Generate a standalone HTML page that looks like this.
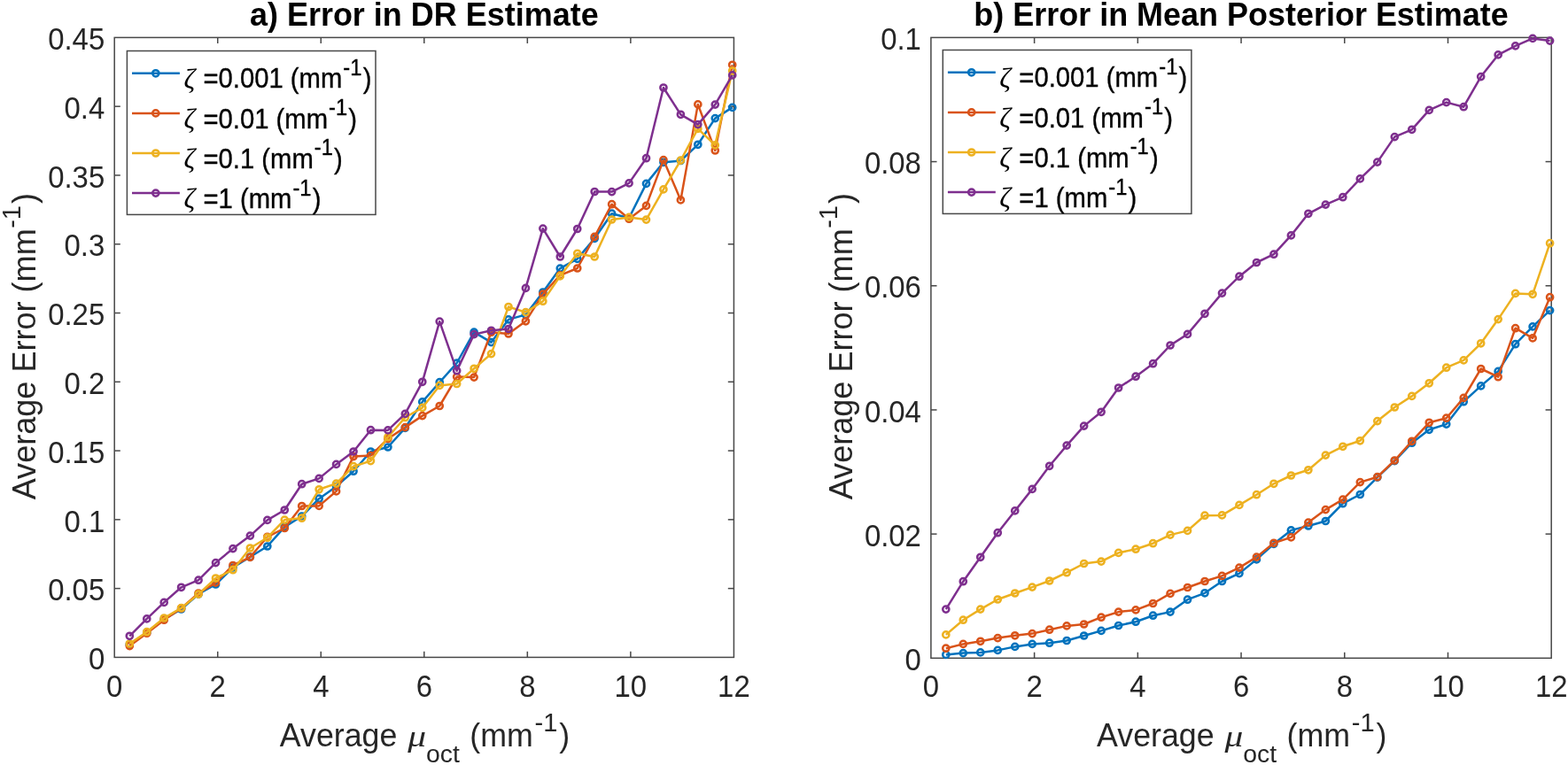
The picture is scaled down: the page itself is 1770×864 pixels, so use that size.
<!DOCTYPE html><html><head><meta charset="utf-8"><title>Error plots</title><style>html,body{margin:0;padding:0;background:#fff;}svg{display:block;}</style></head><body>
<svg width="1770" height="864" viewBox="0 0 1770 864">
<rect width="1770" height="864" fill="#fff"/>
<rect x="129.2" y="42.4" width="699.20" height="700.00" fill="#fff" stroke="#484848" stroke-width="1.5"/>
<g stroke="#484848" stroke-width="1.5">
<line x1="245.73" y1="742.4" x2="245.73" y2="735.8"/>
<line x1="245.73" y1="42.4" x2="245.73" y2="49.0"/>
<line x1="362.27" y1="742.4" x2="362.27" y2="735.8"/>
<line x1="362.27" y1="42.4" x2="362.27" y2="49.0"/>
<line x1="478.80" y1="742.4" x2="478.80" y2="735.8"/>
<line x1="478.80" y1="42.4" x2="478.80" y2="49.0"/>
<line x1="595.33" y1="742.4" x2="595.33" y2="735.8"/>
<line x1="595.33" y1="42.4" x2="595.33" y2="49.0"/>
<line x1="711.87" y1="742.4" x2="711.87" y2="735.8"/>
<line x1="711.87" y1="42.4" x2="711.87" y2="49.0"/>
<line x1="129.2" y1="664.62" x2="135.79999999999998" y2="664.62"/>
<line x1="828.4" y1="664.62" x2="821.8" y2="664.62"/>
<line x1="129.2" y1="586.84" x2="135.79999999999998" y2="586.84"/>
<line x1="828.4" y1="586.84" x2="821.8" y2="586.84"/>
<line x1="129.2" y1="509.07" x2="135.79999999999998" y2="509.07"/>
<line x1="828.4" y1="509.07" x2="821.8" y2="509.07"/>
<line x1="129.2" y1="431.29" x2="135.79999999999998" y2="431.29"/>
<line x1="828.4" y1="431.29" x2="821.8" y2="431.29"/>
<line x1="129.2" y1="353.51" x2="135.79999999999998" y2="353.51"/>
<line x1="828.4" y1="353.51" x2="821.8" y2="353.51"/>
<line x1="129.2" y1="275.73" x2="135.79999999999998" y2="275.73"/>
<line x1="828.4" y1="275.73" x2="821.8" y2="275.73"/>
<line x1="129.2" y1="197.96" x2="135.79999999999998" y2="197.96"/>
<line x1="828.4" y1="197.96" x2="821.8" y2="197.96"/>
<line x1="129.2" y1="120.18" x2="135.79999999999998" y2="120.18"/>
<line x1="828.4" y1="120.18" x2="821.8" y2="120.18"/>
</g>
<g fill="#262626">
<text transform="translate(129.20,786.70) scale(0.948,1)" font-family='"Liberation Sans", Arial, Helvetica, sans-serif' font-size="34.7" font-weight="normal" font-style="normal" text-anchor="middle" >0</text>
<text transform="translate(245.73,786.70) scale(0.948,1)" font-family='"Liberation Sans", Arial, Helvetica, sans-serif' font-size="34.7" font-weight="normal" font-style="normal" text-anchor="middle" >2</text>
<text transform="translate(362.27,786.70) scale(0.948,1)" font-family='"Liberation Sans", Arial, Helvetica, sans-serif' font-size="34.7" font-weight="normal" font-style="normal" text-anchor="middle" >4</text>
<text transform="translate(478.80,786.70) scale(0.948,1)" font-family='"Liberation Sans", Arial, Helvetica, sans-serif' font-size="34.7" font-weight="normal" font-style="normal" text-anchor="middle" >6</text>
<text transform="translate(595.33,786.70) scale(0.948,1)" font-family='"Liberation Sans", Arial, Helvetica, sans-serif' font-size="34.7" font-weight="normal" font-style="normal" text-anchor="middle" >8</text>
<text transform="translate(711.87,786.70) scale(0.948,1)" font-family='"Liberation Sans", Arial, Helvetica, sans-serif' font-size="34.7" font-weight="normal" font-style="normal" text-anchor="middle" >10</text>
<text transform="translate(828.40,786.70) scale(0.948,1)" font-family='"Liberation Sans", Arial, Helvetica, sans-serif' font-size="34.7" font-weight="normal" font-style="normal" text-anchor="middle" >12</text>
<text transform="translate(118.20,756.10) scale(0.948,1)" font-family='"Liberation Sans", Arial, Helvetica, sans-serif' font-size="34.7" font-weight="normal" font-style="normal" text-anchor="end" >0</text>
<text transform="translate(118.20,678.32) scale(0.948,1)" font-family='"Liberation Sans", Arial, Helvetica, sans-serif' font-size="34.7" font-weight="normal" font-style="normal" text-anchor="end" >0.05</text>
<text transform="translate(118.20,600.54) scale(0.948,1)" font-family='"Liberation Sans", Arial, Helvetica, sans-serif' font-size="34.7" font-weight="normal" font-style="normal" text-anchor="end" >0.1</text>
<text transform="translate(118.20,522.77) scale(0.948,1)" font-family='"Liberation Sans", Arial, Helvetica, sans-serif' font-size="34.7" font-weight="normal" font-style="normal" text-anchor="end" >0.15</text>
<text transform="translate(118.20,444.99) scale(0.948,1)" font-family='"Liberation Sans", Arial, Helvetica, sans-serif' font-size="34.7" font-weight="normal" font-style="normal" text-anchor="end" >0.2</text>
<text transform="translate(118.20,367.21) scale(0.948,1)" font-family='"Liberation Sans", Arial, Helvetica, sans-serif' font-size="34.7" font-weight="normal" font-style="normal" text-anchor="end" >0.25</text>
<text transform="translate(118.20,289.43) scale(0.948,1)" font-family='"Liberation Sans", Arial, Helvetica, sans-serif' font-size="34.7" font-weight="normal" font-style="normal" text-anchor="end" >0.3</text>
<text transform="translate(118.20,211.66) scale(0.948,1)" font-family='"Liberation Sans", Arial, Helvetica, sans-serif' font-size="34.7" font-weight="normal" font-style="normal" text-anchor="end" >0.35</text>
<text transform="translate(118.20,133.88) scale(0.948,1)" font-family='"Liberation Sans", Arial, Helvetica, sans-serif' font-size="34.7" font-weight="normal" font-style="normal" text-anchor="end" >0.4</text>
<text transform="translate(118.20,56.10) scale(0.948,1)" font-family='"Liberation Sans", Arial, Helvetica, sans-serif' font-size="34.7" font-weight="normal" font-style="normal" text-anchor="end" >0.45</text>
</g>
<polyline points="146.30,728.00 165.74,714.50 185.18,699.50 204.62,688.00 224.06,671.00 243.50,660.00 262.94,641.00 282.38,629.00 301.82,617.00 321.26,595.10 340.70,583.00 360.14,563.20 379.58,549.40 399.02,532.20 418.46,510.00 437.90,505.00 457.34,483.30 476.78,453.90 496.22,431.70 515.66,410.00 535.10,375.20 554.54,386.60 573.98,360.90 593.42,355.40 612.86,330.00 632.30,303.10 651.74,292.40 671.18,269.30 690.62,241.20 710.06,246.30 729.50,207.40 748.94,183.30 768.38,181.50 787.82,163.30 807.26,133.60 826.70,121.40" fill="none" stroke="#0072BD" stroke-width="2.5" stroke-linejoin="round"/>
<g fill="none" stroke="#0072BD" stroke-width="2.5">
<circle cx="146.30" cy="728.00" r="3.6"/>
<circle cx="165.74" cy="714.50" r="3.6"/>
<circle cx="185.18" cy="699.50" r="3.6"/>
<circle cx="204.62" cy="688.00" r="3.6"/>
<circle cx="224.06" cy="671.00" r="3.6"/>
<circle cx="243.50" cy="660.00" r="3.6"/>
<circle cx="262.94" cy="641.00" r="3.6"/>
<circle cx="282.38" cy="629.00" r="3.6"/>
<circle cx="301.82" cy="617.00" r="3.6"/>
<circle cx="321.26" cy="595.10" r="3.6"/>
<circle cx="340.70" cy="583.00" r="3.6"/>
<circle cx="360.14" cy="563.20" r="3.6"/>
<circle cx="379.58" cy="549.40" r="3.6"/>
<circle cx="399.02" cy="532.20" r="3.6"/>
<circle cx="418.46" cy="510.00" r="3.6"/>
<circle cx="437.90" cy="505.00" r="3.6"/>
<circle cx="457.34" cy="483.30" r="3.6"/>
<circle cx="476.78" cy="453.90" r="3.6"/>
<circle cx="496.22" cy="431.70" r="3.6"/>
<circle cx="515.66" cy="410.00" r="3.6"/>
<circle cx="535.10" cy="375.20" r="3.6"/>
<circle cx="554.54" cy="386.60" r="3.6"/>
<circle cx="573.98" cy="360.90" r="3.6"/>
<circle cx="593.42" cy="355.40" r="3.6"/>
<circle cx="612.86" cy="330.00" r="3.6"/>
<circle cx="632.30" cy="303.10" r="3.6"/>
<circle cx="651.74" cy="292.40" r="3.6"/>
<circle cx="671.18" cy="269.30" r="3.6"/>
<circle cx="690.62" cy="241.20" r="3.6"/>
<circle cx="710.06" cy="246.30" r="3.6"/>
<circle cx="729.50" cy="207.40" r="3.6"/>
<circle cx="748.94" cy="183.30" r="3.6"/>
<circle cx="768.38" cy="181.50" r="3.6"/>
<circle cx="787.82" cy="163.30" r="3.6"/>
<circle cx="807.26" cy="133.60" r="3.6"/>
<circle cx="826.70" cy="121.40" r="3.6"/>
</g>
<polyline points="146.30,729.60 165.74,715.20 185.18,700.20 204.62,687.00 224.06,670.00 243.50,658.10 262.94,638.50 282.38,629.30 301.82,606.30 321.26,596.50 340.70,571.50 360.14,571.40 379.58,554.90 399.02,515.60 418.46,514.60 437.90,495.50 457.34,482.60 476.78,469.60 496.22,458.50 515.66,425.60 535.10,426.10 554.54,375.20 573.98,377.00 593.42,362.80 612.86,332.20 632.30,310.90 651.74,303.00 671.18,267.40 690.62,230.70 710.06,247.20 729.50,232.40 748.94,180.60 768.38,225.90 787.82,117.90 807.26,170.00 826.70,73.30" fill="none" stroke="#D95319" stroke-width="2.5" stroke-linejoin="round"/>
<g fill="none" stroke="#D95319" stroke-width="2.5">
<circle cx="146.30" cy="729.60" r="3.6"/>
<circle cx="165.74" cy="715.20" r="3.6"/>
<circle cx="185.18" cy="700.20" r="3.6"/>
<circle cx="204.62" cy="687.00" r="3.6"/>
<circle cx="224.06" cy="670.00" r="3.6"/>
<circle cx="243.50" cy="658.10" r="3.6"/>
<circle cx="262.94" cy="638.50" r="3.6"/>
<circle cx="282.38" cy="629.30" r="3.6"/>
<circle cx="301.82" cy="606.30" r="3.6"/>
<circle cx="321.26" cy="596.50" r="3.6"/>
<circle cx="340.70" cy="571.50" r="3.6"/>
<circle cx="360.14" cy="571.40" r="3.6"/>
<circle cx="379.58" cy="554.90" r="3.6"/>
<circle cx="399.02" cy="515.60" r="3.6"/>
<circle cx="418.46" cy="514.60" r="3.6"/>
<circle cx="437.90" cy="495.50" r="3.6"/>
<circle cx="457.34" cy="482.60" r="3.6"/>
<circle cx="476.78" cy="469.60" r="3.6"/>
<circle cx="496.22" cy="458.50" r="3.6"/>
<circle cx="515.66" cy="425.60" r="3.6"/>
<circle cx="535.10" cy="426.10" r="3.6"/>
<circle cx="554.54" cy="375.20" r="3.6"/>
<circle cx="573.98" cy="377.00" r="3.6"/>
<circle cx="593.42" cy="362.80" r="3.6"/>
<circle cx="612.86" cy="332.20" r="3.6"/>
<circle cx="632.30" cy="310.90" r="3.6"/>
<circle cx="651.74" cy="303.00" r="3.6"/>
<circle cx="671.18" cy="267.40" r="3.6"/>
<circle cx="690.62" cy="230.70" r="3.6"/>
<circle cx="710.06" cy="247.20" r="3.6"/>
<circle cx="729.50" cy="232.40" r="3.6"/>
<circle cx="748.94" cy="180.60" r="3.6"/>
<circle cx="768.38" cy="225.90" r="3.6"/>
<circle cx="787.82" cy="117.90" r="3.6"/>
<circle cx="807.26" cy="170.00" r="3.6"/>
<circle cx="826.70" cy="73.30" r="3.6"/>
</g>
<polyline points="146.30,727.00 165.74,713.70 185.18,698.00 204.62,686.70 224.06,671.10 243.50,653.00 262.94,643.70 282.38,619.00 301.82,607.20 321.26,587.10 340.70,585.20 360.14,552.80 379.58,546.10 399.02,526.70 418.46,520.60 437.90,493.70 457.34,471.50 476.78,460.40 496.22,435.40 515.66,433.50 535.10,416.30 554.54,399.60 573.98,346.50 593.42,352.60 612.86,340.20 632.30,311.90 651.74,286.30 671.18,290.00 690.62,248.00 710.06,245.40 729.50,248.10 748.94,213.90 768.38,181.10 787.82,145.40 807.26,163.90 826.70,80.00" fill="none" stroke="#EDB120" stroke-width="2.5" stroke-linejoin="round"/>
<g fill="none" stroke="#EDB120" stroke-width="2.5">
<circle cx="146.30" cy="727.00" r="3.6"/>
<circle cx="165.74" cy="713.70" r="3.6"/>
<circle cx="185.18" cy="698.00" r="3.6"/>
<circle cx="204.62" cy="686.70" r="3.6"/>
<circle cx="224.06" cy="671.10" r="3.6"/>
<circle cx="243.50" cy="653.00" r="3.6"/>
<circle cx="262.94" cy="643.70" r="3.6"/>
<circle cx="282.38" cy="619.00" r="3.6"/>
<circle cx="301.82" cy="607.20" r="3.6"/>
<circle cx="321.26" cy="587.10" r="3.6"/>
<circle cx="340.70" cy="585.20" r="3.6"/>
<circle cx="360.14" cy="552.80" r="3.6"/>
<circle cx="379.58" cy="546.10" r="3.6"/>
<circle cx="399.02" cy="526.70" r="3.6"/>
<circle cx="418.46" cy="520.60" r="3.6"/>
<circle cx="437.90" cy="493.70" r="3.6"/>
<circle cx="457.34" cy="471.50" r="3.6"/>
<circle cx="476.78" cy="460.40" r="3.6"/>
<circle cx="496.22" cy="435.40" r="3.6"/>
<circle cx="515.66" cy="433.50" r="3.6"/>
<circle cx="535.10" cy="416.30" r="3.6"/>
<circle cx="554.54" cy="399.60" r="3.6"/>
<circle cx="573.98" cy="346.50" r="3.6"/>
<circle cx="593.42" cy="352.60" r="3.6"/>
<circle cx="612.86" cy="340.20" r="3.6"/>
<circle cx="632.30" cy="311.90" r="3.6"/>
<circle cx="651.74" cy="286.30" r="3.6"/>
<circle cx="671.18" cy="290.00" r="3.6"/>
<circle cx="690.62" cy="248.00" r="3.6"/>
<circle cx="710.06" cy="245.40" r="3.6"/>
<circle cx="729.50" cy="248.10" r="3.6"/>
<circle cx="748.94" cy="213.90" r="3.6"/>
<circle cx="768.38" cy="181.10" r="3.6"/>
<circle cx="787.82" cy="145.40" r="3.6"/>
<circle cx="807.26" cy="163.90" r="3.6"/>
<circle cx="826.70" cy="80.00" r="3.6"/>
</g>
<polyline points="146.30,718.30 165.74,698.90 185.18,680.40 204.62,663.30 224.06,655.20 243.50,635.60 262.94,619.60 282.38,605.10 301.82,587.40 321.26,576.00 340.70,546.70 360.14,540.40 379.58,524.40 399.02,510.00 418.46,485.70 437.90,485.90 457.34,467.40 476.78,431.30 496.22,363.10 515.66,418.70 535.10,377.60 554.54,373.30 573.98,371.50 593.42,325.40 612.86,258.10 632.30,290.00 651.74,258.50 671.18,216.50 690.62,216.60 710.06,206.90 729.50,178.70 748.94,99.00 768.38,129.30 787.82,140.60 807.26,118.10 826.70,84.90" fill="none" stroke="#7E2F8E" stroke-width="2.5" stroke-linejoin="round"/>
<g fill="none" stroke="#7E2F8E" stroke-width="2.5">
<circle cx="146.30" cy="718.30" r="3.6"/>
<circle cx="165.74" cy="698.90" r="3.6"/>
<circle cx="185.18" cy="680.40" r="3.6"/>
<circle cx="204.62" cy="663.30" r="3.6"/>
<circle cx="224.06" cy="655.20" r="3.6"/>
<circle cx="243.50" cy="635.60" r="3.6"/>
<circle cx="262.94" cy="619.60" r="3.6"/>
<circle cx="282.38" cy="605.10" r="3.6"/>
<circle cx="301.82" cy="587.40" r="3.6"/>
<circle cx="321.26" cy="576.00" r="3.6"/>
<circle cx="340.70" cy="546.70" r="3.6"/>
<circle cx="360.14" cy="540.40" r="3.6"/>
<circle cx="379.58" cy="524.40" r="3.6"/>
<circle cx="399.02" cy="510.00" r="3.6"/>
<circle cx="418.46" cy="485.70" r="3.6"/>
<circle cx="437.90" cy="485.90" r="3.6"/>
<circle cx="457.34" cy="467.40" r="3.6"/>
<circle cx="476.78" cy="431.30" r="3.6"/>
<circle cx="496.22" cy="363.10" r="3.6"/>
<circle cx="515.66" cy="418.70" r="3.6"/>
<circle cx="535.10" cy="377.60" r="3.6"/>
<circle cx="554.54" cy="373.30" r="3.6"/>
<circle cx="573.98" cy="371.50" r="3.6"/>
<circle cx="593.42" cy="325.40" r="3.6"/>
<circle cx="612.86" cy="258.10" r="3.6"/>
<circle cx="632.30" cy="290.00" r="3.6"/>
<circle cx="651.74" cy="258.50" r="3.6"/>
<circle cx="671.18" cy="216.50" r="3.6"/>
<circle cx="690.62" cy="216.60" r="3.6"/>
<circle cx="710.06" cy="206.90" r="3.6"/>
<circle cx="729.50" cy="178.70" r="3.6"/>
<circle cx="748.94" cy="99.00" r="3.6"/>
<circle cx="768.38" cy="129.30" r="3.6"/>
<circle cx="787.82" cy="140.60" r="3.6"/>
<circle cx="807.26" cy="118.10" r="3.6"/>
<circle cx="826.70" cy="84.90" r="3.6"/>
</g>
<text transform="translate(478.80,29.00) scale(0.967,1)" font-family='"Liberation Sans", Arial, Helvetica, sans-serif' font-size="37.2" font-weight="bold" font-style="normal" text-anchor="middle" fill="#000">a) Error in DR Estimate</text>
<g fill="#262626">
<text transform="translate(315.80,843.00) scale(0.957,1)" font-family='"Liberation Sans", Arial, Helvetica, sans-serif' font-size="37.4" font-weight="normal" font-style="normal" text-anchor="start" >Average</text>
<text transform="translate(460.20,842.60) scale(1.2,1)" font-family='"Liberation Serif", "DejaVu Serif", serif' font-size="34.5" font-weight="normal" font-style="italic" text-anchor="start" >&#956;</text>
<text transform="translate(481.00,860.70) scale(1.06,1)" font-family='"Liberation Sans", Arial, Helvetica, sans-serif' font-size="26.8" font-weight="normal" font-style="normal" text-anchor="start" >oct</text>
<text transform="translate(530.30,843.00) scale(0.957,1)" font-family='"Liberation Sans", Arial, Helvetica, sans-serif' font-size="37.4" font-weight="normal" font-style="normal" text-anchor="start" >(mm</text>
<text transform="translate(603.50,825.50) scale(0.97,1)" font-family='"Liberation Sans", Arial, Helvetica, sans-serif' font-size="30.0" font-weight="normal" font-style="normal" text-anchor="start" >-1</text>
<text transform="translate(631.30,843.00) scale(0.957,1)" font-family='"Liberation Sans", Arial, Helvetica, sans-serif' font-size="37.4" font-weight="normal" font-style="normal" text-anchor="start" >)</text>
</g>
<g fill="#262626" transform="translate(40.30,0) rotate(-90)">
<text transform="translate(-564.30,0) scale(0.997,1)" font-family='"Liberation Sans", Arial, Helvetica, sans-serif' font-size="36.2">Average Error (mm</text>
<text transform="translate(-257.80,-17.2) scale(0.997,1)" font-family='"Liberation Sans", Arial, Helvetica, sans-serif' font-size="29.0">-1</text>
<text transform="translate(-230.10,0) scale(0.997,1)" font-family='"Liberation Sans", Arial, Helvetica, sans-serif' font-size="36.2">)</text>
</g>
<rect x="143.40" y="57.5" width="280.6" height="184.9" fill="#fff" stroke="#484848" stroke-width="1.5"/>
<line x1="149.00" y1="82.8" x2="202.90" y2="82.8" stroke="#0072BD" stroke-width="2.5"/>
<circle cx="175.80" cy="82.8" r="3.6" fill="none" stroke="#0072BD" stroke-width="2.5"/>
<g fill="#000" stroke="#000" stroke-width="0.35">
<text transform="translate(207.40,100.00) scale(1.0,1)" font-family='"Liberation Serif", "DejaVu Serif", serif' font-size="31.5" font-weight="normal" font-style="italic" text-anchor="start" stroke-width="0">&#950;</text>
<text transform="translate(229.40,99.40) scale(0.941,1)" font-family='"Liberation Sans", Arial, Helvetica, sans-serif' font-size="31.1" font-weight="normal" font-style="normal" text-anchor="start" >=0.001 (mm</text>
<text transform="translate(387.35,85.20) scale(0.92,1)" font-family='"Liberation Sans", Arial, Helvetica, sans-serif' font-size="25.8" font-weight="normal" font-style="normal" text-anchor="start" >-1</text>
<text transform="translate(409.64,99.40) scale(0.941,1)" font-family='"Liberation Sans", Arial, Helvetica, sans-serif' font-size="31.1" font-weight="normal" font-style="normal" text-anchor="start" >)</text>
</g>
<line x1="149.00" y1="127.9" x2="202.90" y2="127.9" stroke="#D95319" stroke-width="2.5"/>
<circle cx="175.80" cy="127.9" r="3.6" fill="none" stroke="#D95319" stroke-width="2.5"/>
<g fill="#000" stroke="#000" stroke-width="0.35">
<text transform="translate(207.40,145.10) scale(1.0,1)" font-family='"Liberation Serif", "DejaVu Serif", serif' font-size="31.5" font-weight="normal" font-style="italic" text-anchor="start" stroke-width="0">&#950;</text>
<text transform="translate(229.40,144.50) scale(0.941,1)" font-family='"Liberation Sans", Arial, Helvetica, sans-serif' font-size="31.1" font-weight="normal" font-style="normal" text-anchor="start" >=0.01 (mm</text>
<text transform="translate(371.08,130.30) scale(0.92,1)" font-family='"Liberation Sans", Arial, Helvetica, sans-serif' font-size="25.8" font-weight="normal" font-style="normal" text-anchor="start" >-1</text>
<text transform="translate(393.37,144.50) scale(0.941,1)" font-family='"Liberation Sans", Arial, Helvetica, sans-serif' font-size="31.1" font-weight="normal" font-style="normal" text-anchor="start" >)</text>
</g>
<line x1="149.00" y1="173.0" x2="202.90" y2="173.0" stroke="#EDB120" stroke-width="2.5"/>
<circle cx="175.80" cy="173.0" r="3.6" fill="none" stroke="#EDB120" stroke-width="2.5"/>
<g fill="#000" stroke="#000" stroke-width="0.35">
<text transform="translate(207.40,190.20) scale(1.0,1)" font-family='"Liberation Serif", "DejaVu Serif", serif' font-size="31.5" font-weight="normal" font-style="italic" text-anchor="start" stroke-width="0">&#950;</text>
<text transform="translate(229.40,189.60) scale(0.941,1)" font-family='"Liberation Sans", Arial, Helvetica, sans-serif' font-size="31.1" font-weight="normal" font-style="normal" text-anchor="start" >=0.1 (mm</text>
<text transform="translate(354.81,175.40) scale(0.92,1)" font-family='"Liberation Sans", Arial, Helvetica, sans-serif' font-size="25.8" font-weight="normal" font-style="normal" text-anchor="start" >-1</text>
<text transform="translate(377.10,189.60) scale(0.941,1)" font-family='"Liberation Sans", Arial, Helvetica, sans-serif' font-size="31.1" font-weight="normal" font-style="normal" text-anchor="start" >)</text>
</g>
<line x1="149.00" y1="218.10000000000002" x2="202.90" y2="218.10000000000002" stroke="#7E2F8E" stroke-width="2.5"/>
<circle cx="175.80" cy="218.10000000000002" r="3.6" fill="none" stroke="#7E2F8E" stroke-width="2.5"/>
<g fill="#000" stroke="#000" stroke-width="0.35">
<text transform="translate(207.40,235.30) scale(1.0,1)" font-family='"Liberation Serif", "DejaVu Serif", serif' font-size="31.5" font-weight="normal" font-style="italic" text-anchor="start" stroke-width="0">&#950;</text>
<text transform="translate(229.40,234.70) scale(0.941,1)" font-family='"Liberation Sans", Arial, Helvetica, sans-serif' font-size="31.1" font-weight="normal" font-style="normal" text-anchor="start" >=1 (mm</text>
<text transform="translate(330.40,220.50) scale(0.92,1)" font-family='"Liberation Sans", Arial, Helvetica, sans-serif' font-size="25.8" font-weight="normal" font-style="normal" text-anchor="start" >-1</text>
<text transform="translate(352.69,234.70) scale(0.941,1)" font-family='"Liberation Sans", Arial, Helvetica, sans-serif' font-size="31.1" font-weight="normal" font-style="normal" text-anchor="start" >)</text>
</g>
<rect x="1050.9" y="42.4" width="700.30" height="700.90" fill="#fff" stroke="#484848" stroke-width="1.5"/>
<g stroke="#484848" stroke-width="1.5">
<line x1="1167.62" y1="743.3" x2="1167.62" y2="736.6999999999999"/>
<line x1="1167.62" y1="42.4" x2="1167.62" y2="49.0"/>
<line x1="1284.33" y1="743.3" x2="1284.33" y2="736.6999999999999"/>
<line x1="1284.33" y1="42.4" x2="1284.33" y2="49.0"/>
<line x1="1401.05" y1="743.3" x2="1401.05" y2="736.6999999999999"/>
<line x1="1401.05" y1="42.4" x2="1401.05" y2="49.0"/>
<line x1="1517.77" y1="743.3" x2="1517.77" y2="736.6999999999999"/>
<line x1="1517.77" y1="42.4" x2="1517.77" y2="49.0"/>
<line x1="1634.48" y1="743.3" x2="1634.48" y2="736.6999999999999"/>
<line x1="1634.48" y1="42.4" x2="1634.48" y2="49.0"/>
<line x1="1050.9" y1="603.12" x2="1057.5" y2="603.12"/>
<line x1="1751.2" y1="603.12" x2="1744.6000000000001" y2="603.12"/>
<line x1="1050.9" y1="462.94" x2="1057.5" y2="462.94"/>
<line x1="1751.2" y1="462.94" x2="1744.6000000000001" y2="462.94"/>
<line x1="1050.9" y1="322.76" x2="1057.5" y2="322.76"/>
<line x1="1751.2" y1="322.76" x2="1744.6000000000001" y2="322.76"/>
<line x1="1050.9" y1="182.58" x2="1057.5" y2="182.58"/>
<line x1="1751.2" y1="182.58" x2="1744.6000000000001" y2="182.58"/>
</g>
<g fill="#262626">
<text transform="translate(1050.90,786.70) scale(0.948,1)" font-family='"Liberation Sans", Arial, Helvetica, sans-serif' font-size="34.7" font-weight="normal" font-style="normal" text-anchor="middle" >0</text>
<text transform="translate(1167.62,786.70) scale(0.948,1)" font-family='"Liberation Sans", Arial, Helvetica, sans-serif' font-size="34.7" font-weight="normal" font-style="normal" text-anchor="middle" >2</text>
<text transform="translate(1284.33,786.70) scale(0.948,1)" font-family='"Liberation Sans", Arial, Helvetica, sans-serif' font-size="34.7" font-weight="normal" font-style="normal" text-anchor="middle" >4</text>
<text transform="translate(1401.05,786.70) scale(0.948,1)" font-family='"Liberation Sans", Arial, Helvetica, sans-serif' font-size="34.7" font-weight="normal" font-style="normal" text-anchor="middle" >6</text>
<text transform="translate(1517.77,786.70) scale(0.948,1)" font-family='"Liberation Sans", Arial, Helvetica, sans-serif' font-size="34.7" font-weight="normal" font-style="normal" text-anchor="middle" >8</text>
<text transform="translate(1634.48,786.70) scale(0.948,1)" font-family='"Liberation Sans", Arial, Helvetica, sans-serif' font-size="34.7" font-weight="normal" font-style="normal" text-anchor="middle" >10</text>
<text transform="translate(1751.20,786.70) scale(0.948,1)" font-family='"Liberation Sans", Arial, Helvetica, sans-serif' font-size="34.7" font-weight="normal" font-style="normal" text-anchor="middle" >12</text>
<text transform="translate(1039.90,757.00) scale(0.948,1)" font-family='"Liberation Sans", Arial, Helvetica, sans-serif' font-size="34.7" font-weight="normal" font-style="normal" text-anchor="end" >0</text>
<text transform="translate(1039.90,616.82) scale(0.948,1)" font-family='"Liberation Sans", Arial, Helvetica, sans-serif' font-size="34.7" font-weight="normal" font-style="normal" text-anchor="end" >0.02</text>
<text transform="translate(1039.90,476.64) scale(0.948,1)" font-family='"Liberation Sans", Arial, Helvetica, sans-serif' font-size="34.7" font-weight="normal" font-style="normal" text-anchor="end" >0.04</text>
<text transform="translate(1039.90,336.46) scale(0.948,1)" font-family='"Liberation Sans", Arial, Helvetica, sans-serif' font-size="34.7" font-weight="normal" font-style="normal" text-anchor="end" >0.06</text>
<text transform="translate(1039.90,196.28) scale(0.948,1)" font-family='"Liberation Sans", Arial, Helvetica, sans-serif' font-size="34.7" font-weight="normal" font-style="normal" text-anchor="end" >0.08</text>
<text transform="translate(1039.90,56.10) scale(0.948,1)" font-family='"Liberation Sans", Arial, Helvetica, sans-serif' font-size="34.7" font-weight="normal" font-style="normal" text-anchor="end" >0.1</text>
</g>
<polyline points="1067.80,739.40 1087.28,737.60 1106.76,736.90 1126.24,734.40 1145.72,730.40 1165.20,727.40 1184.68,726.20 1204.16,723.50 1223.64,718.00 1243.12,712.40 1262.60,706.50 1282.08,702.20 1301.56,695.20 1321.04,691.10 1340.52,677.20 1360.00,669.80 1379.48,656.50 1398.96,647.60 1418.44,631.90 1437.92,614.30 1457.40,598.90 1476.88,594.00 1496.36,588.50 1515.84,568.70 1535.32,558.50 1554.80,539.10 1574.28,520.60 1593.76,500.20 1613.24,485.30 1632.72,479.10 1652.20,453.70 1671.68,435.90 1691.16,419.40 1710.64,388.70 1730.12,368.90 1749.60,350.60" fill="none" stroke="#0072BD" stroke-width="2.5" stroke-linejoin="round"/>
<g fill="none" stroke="#0072BD" stroke-width="2.5">
<circle cx="1067.80" cy="739.40" r="3.6"/>
<circle cx="1087.28" cy="737.60" r="3.6"/>
<circle cx="1106.76" cy="736.90" r="3.6"/>
<circle cx="1126.24" cy="734.40" r="3.6"/>
<circle cx="1145.72" cy="730.40" r="3.6"/>
<circle cx="1165.20" cy="727.40" r="3.6"/>
<circle cx="1184.68" cy="726.20" r="3.6"/>
<circle cx="1204.16" cy="723.50" r="3.6"/>
<circle cx="1223.64" cy="718.00" r="3.6"/>
<circle cx="1243.12" cy="712.40" r="3.6"/>
<circle cx="1262.60" cy="706.50" r="3.6"/>
<circle cx="1282.08" cy="702.20" r="3.6"/>
<circle cx="1301.56" cy="695.20" r="3.6"/>
<circle cx="1321.04" cy="691.10" r="3.6"/>
<circle cx="1340.52" cy="677.20" r="3.6"/>
<circle cx="1360.00" cy="669.80" r="3.6"/>
<circle cx="1379.48" cy="656.50" r="3.6"/>
<circle cx="1398.96" cy="647.60" r="3.6"/>
<circle cx="1418.44" cy="631.90" r="3.6"/>
<circle cx="1437.92" cy="614.30" r="3.6"/>
<circle cx="1457.40" cy="598.90" r="3.6"/>
<circle cx="1476.88" cy="594.00" r="3.6"/>
<circle cx="1496.36" cy="588.50" r="3.6"/>
<circle cx="1515.84" cy="568.70" r="3.6"/>
<circle cx="1535.32" cy="558.50" r="3.6"/>
<circle cx="1554.80" cy="539.10" r="3.6"/>
<circle cx="1574.28" cy="520.60" r="3.6"/>
<circle cx="1593.76" cy="500.20" r="3.6"/>
<circle cx="1613.24" cy="485.30" r="3.6"/>
<circle cx="1632.72" cy="479.10" r="3.6"/>
<circle cx="1652.20" cy="453.70" r="3.6"/>
<circle cx="1671.68" cy="435.90" r="3.6"/>
<circle cx="1691.16" cy="419.40" r="3.6"/>
<circle cx="1710.64" cy="388.70" r="3.6"/>
<circle cx="1730.12" cy="368.90" r="3.6"/>
<circle cx="1749.60" cy="350.60" r="3.6"/>
</g>
<polyline points="1067.80,732.20 1087.28,727.40 1106.76,724.30 1126.24,720.60 1145.72,717.80 1165.20,715.60 1184.68,711.20 1204.16,706.90 1223.64,705.00 1243.12,697.20 1262.60,691.10 1282.08,688.90 1301.56,681.50 1321.04,670.40 1340.52,663.50 1360.00,656.50 1379.48,650.40 1398.96,641.10 1418.44,629.10 1437.92,613.30 1457.40,606.90 1476.88,590.10 1496.36,575.60 1515.84,564.10 1535.32,544.60 1554.80,538.70 1574.28,520.00 1593.76,498.30 1613.24,477.30 1632.72,472.20 1652.20,449.40 1671.68,416.50 1691.16,425.70 1710.64,370.70 1730.12,381.90 1749.60,335.70" fill="none" stroke="#D95319" stroke-width="2.5" stroke-linejoin="round"/>
<g fill="none" stroke="#D95319" stroke-width="2.5">
<circle cx="1067.80" cy="732.20" r="3.6"/>
<circle cx="1087.28" cy="727.40" r="3.6"/>
<circle cx="1106.76" cy="724.30" r="3.6"/>
<circle cx="1126.24" cy="720.60" r="3.6"/>
<circle cx="1145.72" cy="717.80" r="3.6"/>
<circle cx="1165.20" cy="715.60" r="3.6"/>
<circle cx="1184.68" cy="711.20" r="3.6"/>
<circle cx="1204.16" cy="706.90" r="3.6"/>
<circle cx="1223.64" cy="705.00" r="3.6"/>
<circle cx="1243.12" cy="697.20" r="3.6"/>
<circle cx="1262.60" cy="691.10" r="3.6"/>
<circle cx="1282.08" cy="688.90" r="3.6"/>
<circle cx="1301.56" cy="681.50" r="3.6"/>
<circle cx="1321.04" cy="670.40" r="3.6"/>
<circle cx="1340.52" cy="663.50" r="3.6"/>
<circle cx="1360.00" cy="656.50" r="3.6"/>
<circle cx="1379.48" cy="650.40" r="3.6"/>
<circle cx="1398.96" cy="641.10" r="3.6"/>
<circle cx="1418.44" cy="629.10" r="3.6"/>
<circle cx="1437.92" cy="613.30" r="3.6"/>
<circle cx="1457.40" cy="606.90" r="3.6"/>
<circle cx="1476.88" cy="590.10" r="3.6"/>
<circle cx="1496.36" cy="575.60" r="3.6"/>
<circle cx="1515.84" cy="564.10" r="3.6"/>
<circle cx="1535.32" cy="544.60" r="3.6"/>
<circle cx="1554.80" cy="538.70" r="3.6"/>
<circle cx="1574.28" cy="520.00" r="3.6"/>
<circle cx="1593.76" cy="498.30" r="3.6"/>
<circle cx="1613.24" cy="477.30" r="3.6"/>
<circle cx="1632.72" cy="472.20" r="3.6"/>
<circle cx="1652.20" cy="449.40" r="3.6"/>
<circle cx="1671.68" cy="416.50" r="3.6"/>
<circle cx="1691.16" cy="425.70" r="3.6"/>
<circle cx="1710.64" cy="370.70" r="3.6"/>
<circle cx="1730.12" cy="381.90" r="3.6"/>
<circle cx="1749.60" cy="335.70" r="3.6"/>
</g>
<polyline points="1067.80,716.90 1087.28,700.20 1106.76,688.10 1126.24,677.00 1145.72,670.00 1165.20,663.10 1184.68,656.00 1204.16,646.70 1223.64,636.50 1243.12,634.10 1262.60,624.40 1282.08,620.20 1301.56,613.70 1321.04,604.10 1340.52,599.40 1360.00,582.20 1379.48,581.90 1398.96,570.40 1418.44,558.70 1437.92,546.30 1457.40,537.00 1476.88,530.80 1496.36,514.10 1515.84,504.30 1535.32,497.80 1554.80,475.60 1574.28,460.00 1593.76,447.40 1613.24,432.80 1632.72,415.20 1652.20,406.90 1671.68,387.80 1691.16,360.60 1710.64,331.40 1730.12,332.30 1749.60,274.70" fill="none" stroke="#EDB120" stroke-width="2.5" stroke-linejoin="round"/>
<g fill="none" stroke="#EDB120" stroke-width="2.5">
<circle cx="1067.80" cy="716.90" r="3.6"/>
<circle cx="1087.28" cy="700.20" r="3.6"/>
<circle cx="1106.76" cy="688.10" r="3.6"/>
<circle cx="1126.24" cy="677.00" r="3.6"/>
<circle cx="1145.72" cy="670.00" r="3.6"/>
<circle cx="1165.20" cy="663.10" r="3.6"/>
<circle cx="1184.68" cy="656.00" r="3.6"/>
<circle cx="1204.16" cy="646.70" r="3.6"/>
<circle cx="1223.64" cy="636.50" r="3.6"/>
<circle cx="1243.12" cy="634.10" r="3.6"/>
<circle cx="1262.60" cy="624.40" r="3.6"/>
<circle cx="1282.08" cy="620.20" r="3.6"/>
<circle cx="1301.56" cy="613.70" r="3.6"/>
<circle cx="1321.04" cy="604.10" r="3.6"/>
<circle cx="1340.52" cy="599.40" r="3.6"/>
<circle cx="1360.00" cy="582.20" r="3.6"/>
<circle cx="1379.48" cy="581.90" r="3.6"/>
<circle cx="1398.96" cy="570.40" r="3.6"/>
<circle cx="1418.44" cy="558.70" r="3.6"/>
<circle cx="1437.92" cy="546.30" r="3.6"/>
<circle cx="1457.40" cy="537.00" r="3.6"/>
<circle cx="1476.88" cy="530.80" r="3.6"/>
<circle cx="1496.36" cy="514.10" r="3.6"/>
<circle cx="1515.84" cy="504.30" r="3.6"/>
<circle cx="1535.32" cy="497.80" r="3.6"/>
<circle cx="1554.80" cy="475.60" r="3.6"/>
<circle cx="1574.28" cy="460.00" r="3.6"/>
<circle cx="1593.76" cy="447.40" r="3.6"/>
<circle cx="1613.24" cy="432.80" r="3.6"/>
<circle cx="1632.72" cy="415.20" r="3.6"/>
<circle cx="1652.20" cy="406.90" r="3.6"/>
<circle cx="1671.68" cy="387.80" r="3.6"/>
<circle cx="1691.16" cy="360.60" r="3.6"/>
<circle cx="1710.64" cy="331.40" r="3.6"/>
<circle cx="1730.12" cy="332.30" r="3.6"/>
<circle cx="1749.60" cy="274.70" r="3.6"/>
</g>
<polyline points="1067.80,688.10 1087.28,656.70 1106.76,629.30 1126.24,601.70 1145.72,576.90 1165.20,552.40 1184.68,526.30 1204.16,503.10 1223.64,481.10 1243.12,465.30 1262.60,438.00 1282.08,425.20 1301.56,410.70 1321.04,390.00 1340.52,377.40 1360.00,354.30 1379.48,331.10 1398.96,312.20 1418.44,296.50 1437.92,287.20 1457.40,265.90 1476.88,241.30 1496.36,231.10 1515.84,222.70 1535.32,201.90 1554.80,183.10 1574.28,154.60 1593.76,146.30 1613.24,124.40 1632.72,115.60 1652.20,120.70 1671.68,86.60 1691.16,61.90 1710.64,51.90 1730.12,43.40 1749.60,46.10" fill="none" stroke="#7E2F8E" stroke-width="2.5" stroke-linejoin="round"/>
<g fill="none" stroke="#7E2F8E" stroke-width="2.5">
<circle cx="1067.80" cy="688.10" r="3.6"/>
<circle cx="1087.28" cy="656.70" r="3.6"/>
<circle cx="1106.76" cy="629.30" r="3.6"/>
<circle cx="1126.24" cy="601.70" r="3.6"/>
<circle cx="1145.72" cy="576.90" r="3.6"/>
<circle cx="1165.20" cy="552.40" r="3.6"/>
<circle cx="1184.68" cy="526.30" r="3.6"/>
<circle cx="1204.16" cy="503.10" r="3.6"/>
<circle cx="1223.64" cy="481.10" r="3.6"/>
<circle cx="1243.12" cy="465.30" r="3.6"/>
<circle cx="1262.60" cy="438.00" r="3.6"/>
<circle cx="1282.08" cy="425.20" r="3.6"/>
<circle cx="1301.56" cy="410.70" r="3.6"/>
<circle cx="1321.04" cy="390.00" r="3.6"/>
<circle cx="1340.52" cy="377.40" r="3.6"/>
<circle cx="1360.00" cy="354.30" r="3.6"/>
<circle cx="1379.48" cy="331.10" r="3.6"/>
<circle cx="1398.96" cy="312.20" r="3.6"/>
<circle cx="1418.44" cy="296.50" r="3.6"/>
<circle cx="1437.92" cy="287.20" r="3.6"/>
<circle cx="1457.40" cy="265.90" r="3.6"/>
<circle cx="1476.88" cy="241.30" r="3.6"/>
<circle cx="1496.36" cy="231.10" r="3.6"/>
<circle cx="1515.84" cy="222.70" r="3.6"/>
<circle cx="1535.32" cy="201.90" r="3.6"/>
<circle cx="1554.80" cy="183.10" r="3.6"/>
<circle cx="1574.28" cy="154.60" r="3.6"/>
<circle cx="1593.76" cy="146.30" r="3.6"/>
<circle cx="1613.24" cy="124.40" r="3.6"/>
<circle cx="1632.72" cy="115.60" r="3.6"/>
<circle cx="1652.20" cy="120.70" r="3.6"/>
<circle cx="1671.68" cy="86.60" r="3.6"/>
<circle cx="1691.16" cy="61.90" r="3.6"/>
<circle cx="1710.64" cy="51.90" r="3.6"/>
<circle cx="1730.12" cy="43.40" r="3.6"/>
<circle cx="1749.60" cy="46.10" r="3.6"/>
</g>
<text transform="translate(1401.05,29.00) scale(0.967,1)" font-family='"Liberation Sans", Arial, Helvetica, sans-serif' font-size="37.2" font-weight="bold" font-style="normal" text-anchor="middle" fill="#000">b) Error in Mean Posterior Estimate</text>
<g fill="#262626">
<text transform="translate(1238.05,843.00) scale(0.957,1)" font-family='"Liberation Sans", Arial, Helvetica, sans-serif' font-size="37.4" font-weight="normal" font-style="normal" text-anchor="start" >Average</text>
<text transform="translate(1382.45,842.60) scale(1.2,1)" font-family='"Liberation Serif", "DejaVu Serif", serif' font-size="34.5" font-weight="normal" font-style="italic" text-anchor="start" >&#956;</text>
<text transform="translate(1403.25,860.70) scale(1.06,1)" font-family='"Liberation Sans", Arial, Helvetica, sans-serif' font-size="26.8" font-weight="normal" font-style="normal" text-anchor="start" >oct</text>
<text transform="translate(1452.55,843.00) scale(0.957,1)" font-family='"Liberation Sans", Arial, Helvetica, sans-serif' font-size="37.4" font-weight="normal" font-style="normal" text-anchor="start" >(mm</text>
<text transform="translate(1525.75,825.50) scale(0.97,1)" font-family='"Liberation Sans", Arial, Helvetica, sans-serif' font-size="30.0" font-weight="normal" font-style="normal" text-anchor="start" >-1</text>
<text transform="translate(1553.55,843.00) scale(0.957,1)" font-family='"Liberation Sans", Arial, Helvetica, sans-serif' font-size="37.4" font-weight="normal" font-style="normal" text-anchor="start" >)</text>
</g>
<g fill="#262626" transform="translate(962.00,0) rotate(-90)">
<text transform="translate(-564.30,0) scale(0.997,1)" font-family='"Liberation Sans", Arial, Helvetica, sans-serif' font-size="36.2">Average Error (mm</text>
<text transform="translate(-257.80,-17.2) scale(0.997,1)" font-family='"Liberation Sans", Arial, Helvetica, sans-serif' font-size="29.0">-1</text>
<text transform="translate(-230.10,0) scale(0.997,1)" font-family='"Liberation Sans", Arial, Helvetica, sans-serif' font-size="36.2">)</text>
</g>
<rect x="1064.30" y="56.5" width="280.6" height="184.9" fill="#fff" stroke="#484848" stroke-width="1.5"/>
<line x1="1069.90" y1="81.8" x2="1123.80" y2="81.8" stroke="#0072BD" stroke-width="2.5"/>
<circle cx="1096.70" cy="81.8" r="3.6" fill="none" stroke="#0072BD" stroke-width="2.5"/>
<g fill="#000" stroke="#000" stroke-width="0.35">
<text transform="translate(1128.30,99.00) scale(1.0,1)" font-family='"Liberation Serif", "DejaVu Serif", serif' font-size="31.5" font-weight="normal" font-style="italic" text-anchor="start" stroke-width="0">&#950;</text>
<text transform="translate(1150.30,98.40) scale(0.941,1)" font-family='"Liberation Sans", Arial, Helvetica, sans-serif' font-size="31.1" font-weight="normal" font-style="normal" text-anchor="start" >=0.001 (mm</text>
<text transform="translate(1308.25,84.20) scale(0.92,1)" font-family='"Liberation Sans", Arial, Helvetica, sans-serif' font-size="25.8" font-weight="normal" font-style="normal" text-anchor="start" >-1</text>
<text transform="translate(1330.54,98.40) scale(0.941,1)" font-family='"Liberation Sans", Arial, Helvetica, sans-serif' font-size="31.1" font-weight="normal" font-style="normal" text-anchor="start" >)</text>
</g>
<line x1="1069.90" y1="126.9" x2="1123.80" y2="126.9" stroke="#D95319" stroke-width="2.5"/>
<circle cx="1096.70" cy="126.9" r="3.6" fill="none" stroke="#D95319" stroke-width="2.5"/>
<g fill="#000" stroke="#000" stroke-width="0.35">
<text transform="translate(1128.30,144.10) scale(1.0,1)" font-family='"Liberation Serif", "DejaVu Serif", serif' font-size="31.5" font-weight="normal" font-style="italic" text-anchor="start" stroke-width="0">&#950;</text>
<text transform="translate(1150.30,143.50) scale(0.941,1)" font-family='"Liberation Sans", Arial, Helvetica, sans-serif' font-size="31.1" font-weight="normal" font-style="normal" text-anchor="start" >=0.01 (mm</text>
<text transform="translate(1291.98,129.30) scale(0.92,1)" font-family='"Liberation Sans", Arial, Helvetica, sans-serif' font-size="25.8" font-weight="normal" font-style="normal" text-anchor="start" >-1</text>
<text transform="translate(1314.27,143.50) scale(0.941,1)" font-family='"Liberation Sans", Arial, Helvetica, sans-serif' font-size="31.1" font-weight="normal" font-style="normal" text-anchor="start" >)</text>
</g>
<line x1="1069.90" y1="172.0" x2="1123.80" y2="172.0" stroke="#EDB120" stroke-width="2.5"/>
<circle cx="1096.70" cy="172.0" r="3.6" fill="none" stroke="#EDB120" stroke-width="2.5"/>
<g fill="#000" stroke="#000" stroke-width="0.35">
<text transform="translate(1128.30,189.20) scale(1.0,1)" font-family='"Liberation Serif", "DejaVu Serif", serif' font-size="31.5" font-weight="normal" font-style="italic" text-anchor="start" stroke-width="0">&#950;</text>
<text transform="translate(1150.30,188.60) scale(0.941,1)" font-family='"Liberation Sans", Arial, Helvetica, sans-serif' font-size="31.1" font-weight="normal" font-style="normal" text-anchor="start" >=0.1 (mm</text>
<text transform="translate(1275.71,174.40) scale(0.92,1)" font-family='"Liberation Sans", Arial, Helvetica, sans-serif' font-size="25.8" font-weight="normal" font-style="normal" text-anchor="start" >-1</text>
<text transform="translate(1298.00,188.60) scale(0.941,1)" font-family='"Liberation Sans", Arial, Helvetica, sans-serif' font-size="31.1" font-weight="normal" font-style="normal" text-anchor="start" >)</text>
</g>
<line x1="1069.90" y1="217.10000000000002" x2="1123.80" y2="217.10000000000002" stroke="#7E2F8E" stroke-width="2.5"/>
<circle cx="1096.70" cy="217.10000000000002" r="3.6" fill="none" stroke="#7E2F8E" stroke-width="2.5"/>
<g fill="#000" stroke="#000" stroke-width="0.35">
<text transform="translate(1128.30,234.30) scale(1.0,1)" font-family='"Liberation Serif", "DejaVu Serif", serif' font-size="31.5" font-weight="normal" font-style="italic" text-anchor="start" stroke-width="0">&#950;</text>
<text transform="translate(1150.30,233.70) scale(0.941,1)" font-family='"Liberation Sans", Arial, Helvetica, sans-serif' font-size="31.1" font-weight="normal" font-style="normal" text-anchor="start" >=1 (mm</text>
<text transform="translate(1251.30,219.50) scale(0.92,1)" font-family='"Liberation Sans", Arial, Helvetica, sans-serif' font-size="25.8" font-weight="normal" font-style="normal" text-anchor="start" >-1</text>
<text transform="translate(1273.59,233.70) scale(0.941,1)" font-family='"Liberation Sans", Arial, Helvetica, sans-serif' font-size="31.1" font-weight="normal" font-style="normal" text-anchor="start" >)</text>
</g>
</svg></body></html>
